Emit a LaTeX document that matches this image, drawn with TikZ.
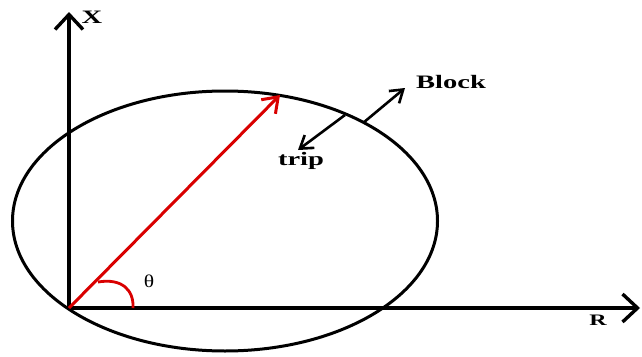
\documentclass[tikz,border=0pt]{standalone}
\usepackage{fontspec}
\setmainfont{Liberation Serif}
\usetikzlibrary{arrows.meta}
\begin{document}
\begin{tikzpicture}[x=1pt,y=-1pt,
  axis/.style={line width=3.4pt,-{Straight Barb[length=15pt,width=28pt,line width=3.4pt]}},
  radius/.style={red!85!black,line width=3pt,-{Straight Barb[length=14pt,width=20pt,line width=3pt]}},
  push/.style={line width=2.6pt,-{Straight Barb[length=12pt,width=16pt,line width=2.6pt]}},
  lbl/.style={font=\bfseries\fontsize{19}{19}\selectfont,xscale=1.5}]
  \useasboundingbox (0,0) rectangle (642,356);
  \coordinate (O) at (69,308);
  \coordinate (Xtip) at (69,12);
  \coordinate (Rtip) at (640,308);
  \coordinate (P) at (280,95);
  \coordinate (Ein) at (345,115);
  \coordinate (Eout) at (363,123);
  \coordinate (Tin) at (298,150);
  \coordinate (Bout) at (405,88);
  \draw[line width=3pt] (225,221) ellipse [x radius=212.5,y radius=130];
  \draw[axis] (O) -- (Xtip);
  \draw[axis] (O) -- (Rtip);
  \draw[radius] (O) -- (P);
  \draw[red!85!black,line width=2.8pt] (98,282) .. controls (122,278) and (134,290) .. (133,308);
  \draw[push] (Ein) -- (Tin);
  \draw[push] (Eout) -- (Bout);
  \node[lbl] (xlbl) at (92,17) {X};
  \node[lbl,font=\bfseries\fontsize{16}{16}\selectfont] (rlbl) at (598,320) {R};
  \node[lbl] (block) at (451,82) {Block};
  \node[lbl] (trip) at (301,161) {trip};
  \node[font=\fontsize{18}{18}\selectfont,xscale=1.2] (theta) at (149,281) {θ};
\end{tikzpicture}
\end{document}
